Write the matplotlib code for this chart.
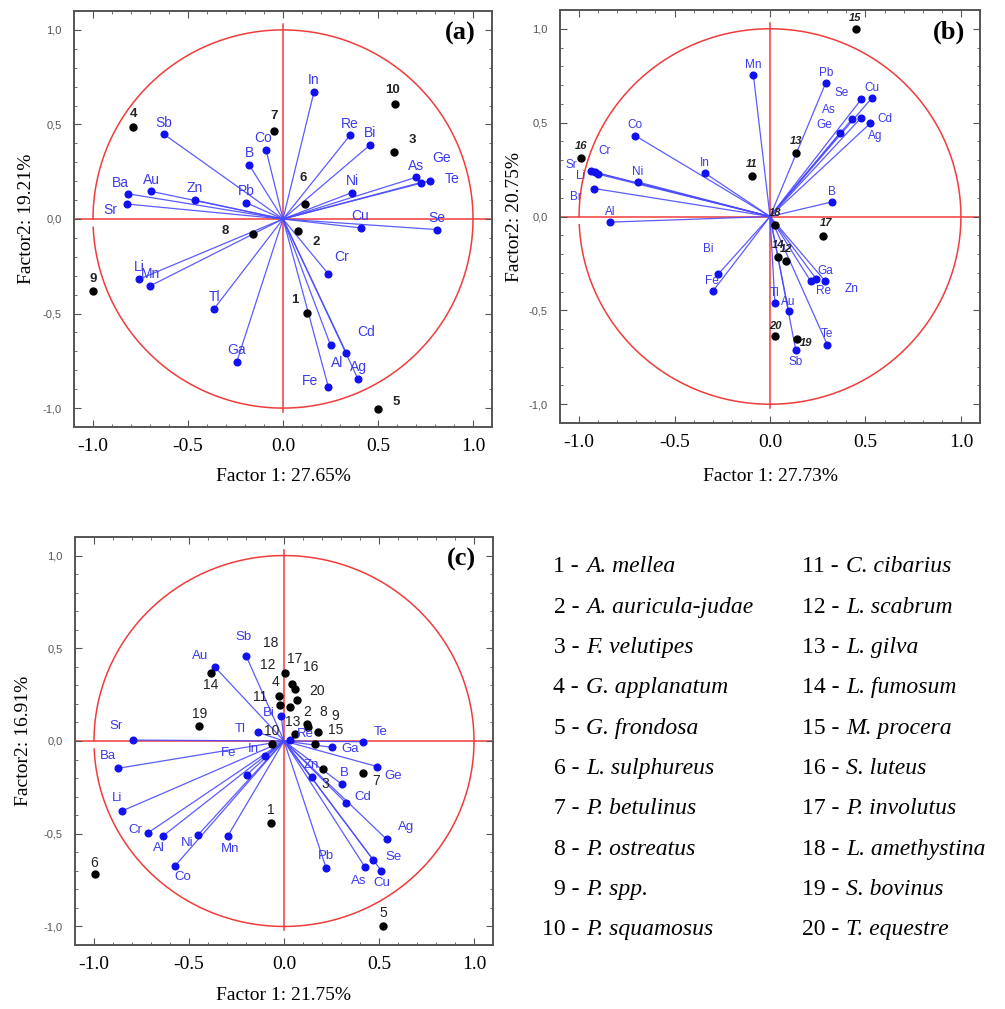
import numpy as np
import matplotlib.pyplot as plt
from matplotlib.ticker import MultipleLocator

# ---------------- panel (a) ----------------
a_vars = ['In', 'Re', 'Bi', 'As', 'Ge', 'Te', 'Ni', 'Cu', 'Se', 'Cr', 'Cd', 'Al', 'Ag',
          'Fe', 'Ga', 'Tl', 'Li', 'Mn', 'Sb', 'Ba', 'Au', 'Zn', 'Sr', 'Pb', 'B', 'Co']
a_vx = [0.163, 0.352, 0.46, 0.70, 0.725, 0.775, 0.364, 0.408, 0.81, 0.238, 0.334, 0.25, 0.395,
        0.238, -0.243, -0.362, -0.756, -0.70, -0.625, -0.815, -0.693, -0.465, -0.82, -0.194, -0.178, -0.089]
a_vy = [0.672, 0.442, 0.393, 0.22, 0.193, 0.202, 0.14, -0.047, -0.056, -0.29, -0.71, -0.667, -0.847,
        -0.886, -0.754, -0.474, -0.318, -0.354, 0.447, 0.133, 0.146, 0.10, 0.079, 0.086, 0.286, 0.365]
a_samples = ['1', '2', '3', '4', '5', '6', '7', '8', '9', '10']
a_sx = [0.124, 0.08, 0.583, -0.789, 0.50, 0.115, -0.049, -0.156, -0.999, 0.588]
a_sy = [-0.496, -0.063, 0.356, 0.486, -1.004, 0.079, 0.468, -0.077, -0.38, 0.609]

# ---------------- panel (b) ----------------
b_vars = ['Mn', 'Pb', 'Cu', 'Se', 'As', 'Ge', 'Cd', 'Ag', 'Co', 'In', 'Ni', 'Sr', 'Li',
          'Cr', 'Br', 'Al', 'B', 'Bi', 'Fe', 'Ga', 'Re', 'Zn', 'Tl', 'Au', 'Sb', 'Te']
b_vx = [-0.087, 0.292, 0.535, 0.478, 0.431, 0.366, 0.526, 0.478, -0.707, -0.342, -0.693, -0.936, -0.915,
        -0.903, -0.92, -0.837, 0.326, -0.272, -0.298, 0.288, 0.243, 0.214, 0.026, 0.097, 0.135, 0.30]
b_vy = [0.753, 0.712, 0.633, 0.624, 0.52, 0.444, 0.497, 0.527, 0.431, 0.232, 0.184, 0.24, 0.235,
        0.226, 0.149, -0.03, 0.078, -0.308, -0.396, -0.343, -0.334, -0.346, -0.463, -0.502, -0.711, -0.683]
b_samples = ['11', '12', '13', '14', '15', '16', '17', '18', '19', '20']
b_sx = [-0.095, 0.083, 0.135, 0.043, 0.448, -0.99, 0.278, 0.026, 0.144, 0.026]
b_sy = [0.218, -0.237, 0.338, -0.216, 0.997, 0.311, -0.104, -0.046, -0.652, -0.635]

# ---------------- panel (c) ----------------
c_vars = ['Sb', 'Au', 'Sr', 'Bi', 'Tl', 'Te', 'Ga', 'Ba', 'Li', 'Cr', 'Al', 'Ni', 'Co',
          'Mn', 'Fe', 'In', 'Zn', 'B', 'Cd', 'Ge', 'Ag', 'Se', 'Cu', 'As', 'Pb', 'Re']
c_vx = [-0.2, -0.362, -0.794, -0.014, -0.139, 0.416, 0.251, -0.872, -0.85, -0.714, -0.637, -0.453, -0.574,
        -0.296, -0.197, -0.098, 0.146, 0.305, 0.325, 0.491, 0.54, 0.47, 0.512, 0.425, 0.221, 0.03]
c_vy = [0.46, 0.397, 0.005, 0.135, 0.047, -0.004, -0.034, -0.147, -0.376, -0.494, -0.512, -0.507, -0.674,
        -0.512, -0.183, -0.081, -0.196, -0.233, -0.333, -0.138, -0.53, -0.642, -0.699, -0.678, -0.683, 0.005]
c_samples = [str(i) for i in range(1, 21)]
c_sx = [-0.066, 0.12, 0.207, -0.028, 0.522, -0.997, 0.418, 0.125, 0.181, -0.061,
        -0.022, 0.03, 0.056, -0.385, 0.163, 0.042, 0.007, 0.056, -0.446, 0.069]
c_sy = [-0.44, 0.092, -0.153, 0.243, -1.0, -0.717, -0.174, 0.077, 0.05, -0.018,
        0.194, 0.185, 0.036, 0.368, -0.016, 0.306, 0.365, 0.279, 0.081, 0.221]

species = ['A. mellea', 'A. auricula-judae', 'F. velutipes', 'G. applanatum', 'G. frondosa',
           'L. sulphureus', 'P. betulinus', 'P. ostreatus', 'P. spp.', 'P. squamosus',
           'C. cibarius', 'L. scabrum', 'L. gilva', 'L. fumosum', 'M. procera',
           'S. luteus', 'P. involutus', 'L. amethystina', 'S. bovinus', 'T. equestre']

# label offsets (data units), default is straight above
a_voff = {'Ge': (0.112, 0.13), 'Te': (0.114, 0.01), 'Cr': (0.068, 0.09), 'Cd': (0.105, 0.115),
          'Al': (0.037, -0.095), 'Fe': (-0.095, 0.03), 'Ba': (-0.042, 0.058), 'Sr': (-0.09, -0.032),
          'Co': (-0.016, 0.063)}
a_soff = {'1': (-0.063, 0.068), '2': (0.095, -0.058), '3': (0.10, 0.063), '4': (0, 0.068),
          '5': (0.095, 0.037), '6': (-0.01, 0.137), '7': (0, 0.079), '8': (-0.147, 0.016),
          '9': (0, 0.063), '10': (-0.01, 0.074)}
b_voff = {'Cu': (0, 0.05), 'Se': (-0.103, 0.032), 'As': (-0.122, 0.048), 'Ge': (-0.083, 0.044),
          'Cd': (0.078, 0.023), 'Ag': (0.075, -0.10), 'Sr': (-0.104, 0.035), 'Li': (-0.078, -0.021),
          'Cr': (0.036, 0.123), 'Br': (-0.099, -0.044), 'Bi': (-0.052, 0.136), 'Fe': (-0.009, 0.053),
          'Re': (0.035, -0.062), 'Zn': (0.212, -0.041), 'Au': (0, 0.048), 'Sb': (0, -0.062)}
b_soff = {'17': (0.014, 0.067), '18': (0, 0.067), '19': (0.043, -0.021), '20': (0, 0.053)}
c_voff = {'Sb': (-0.014, 0.10), 'Au': (-0.078, 0.061), 'Sr': (-0.09, 0.077), 'Bi': (-0.066, 0.018),
          'Tl': (-0.092, 0.018), 'Te': (0.092, 0.05), 'Ga': (0.098, -0.01), 'Ba': (-0.056, 0.066),
          'Li': (-0.026, 0.067), 'Cr': (-0.07, 0.015), 'Al': (-0.021, -0.066), 'Ni': (-0.057, -0.045),
          'Co': (0.042, -0.058), 'Mn': (0.012, -0.072), 'Fe': (-0.092, 0.117), 'In': (-0.064, 0.036),
          'Zn': (-0.004, 0.066), 'B': (0.01, 0.063), 'Cd': (0.092, 0.029), 'Ge': (0.084, -0.05),
          'Ag': (0.104, 0.065), 'Se': (0.108, 0.014), 'Cu': (0.005, -0.068), 'As': (-0.03, -0.075),
          'Re': (0.081, 0.031)}
c_soff = {'1': (-0.003, 0.068), '2': (0, 0.066), '3': (0.011, -0.079), '4': (-0.015, 0.077),
          '5': (0, 0.071), '6': (0, 0.061), '7': (0.069, -0.04), '8': (0.079, 0.081),
          '9': (0.089, 0.086), '10': (-0.005, 0.074), '11': (-0.105, 0.045), '12': (-0.114, 0.225),
          '13': (-0.009, 0.068), '14': (0, -0.066), '15': (0.11, 0.075), '16': (0.097, 0.094),
          '17': (0.049, 0.077), '18': (-0.125, 0.248), '19': (0, 0.065), '20': (0.105, 0.05)}

W, H = 1005, 1009
fig = plt.figure(figsize=(W / 100, H / 100), dpi=100)

RED = '#f03c3c'
BLUE_LINE = '#4a4aff'
BLUE = '#1010f0'
VAR_TXT = '#3a3aee'


def box(l, r, t, b):
    return [l / W, 1 - b / H, (r - l) / W, (b - t) / H]


def draw_panel(ax, vars_, vx, vy, voff, vdef, vsize, samples, sx, sy, soff, sdef, sfont,
               letter, xlab, ylab, xlab_y, ylab_x):
    ax.set_xlim(-1.1, 1.1)
    ax.set_ylim(-1.1, 1.1)
    # unit circle with the small break near (-1, 0)
    th = np.radians(np.linspace(182.5, 540, 400))
    ax.plot(np.cos(th), np.sin(th), color=RED, lw=1.1, zorder=1)
    ax.axhline(0, color=RED, lw=1.1, zorder=1)
    ax.plot([0, 0], [-1.02, 1.03], color=RED, lw=1.1, zorder=1)

    for name, x, y in zip(vars_, vx, vy):
        ax.plot([0, x], [0, y], color=BLUE_LINE, lw=0.9, alpha=0.9, zorder=2)
        ax.plot(x, y, 'o', color=BLUE, ms=4.8, zorder=3)
        dx, dy = voff.get(name, vdef)
        ax.text(x + dx, y + dy, name, color=VAR_TXT, fontsize=vsize, ha='center', va='center',
                family='Liberation Sans', zorder=4)

    for name, x, y in zip(samples, sx, sy):
        ax.plot(x, y, 'o', color='black', ms=5, zorder=3)
        dx, dy = soff.get(name, sdef)
        ax.text(x + dx, y + dy, name, color='#222222', ha='center', va='center', zorder=4, **sfont)

    ax.text(0.925, 0.945, letter, transform=ax.transAxes, fontsize=19, fontweight='bold',
            family='Liberation Serif', ha='center', va='center')

    ax.set_xticks([-1.0, -0.5, 0.0, 0.5, 1.0])
    ax.set_xticklabels(['-1.0', '-0.5', '0.0', '0.5', '1.0'], family='Liberation Serif', fontsize=14)
    ax.set_yticks([-1.0, -0.5, 0.0, 0.5, 1.0])
    ax.set_yticklabels(['-1,0', '-0,5', '0,0', '0,5', '1,0'], family='Liberation Sans', fontsize=8,
                       color='#555555')
    ax.xaxis.set_minor_locator(MultipleLocator(0.1))
    ax.yaxis.set_minor_locator(MultipleLocator(0.1))
    ax.tick_params(which='both', direction='in', top=True, right=True, color='#555555')
    ax.tick_params(which='major', length=5)
    ax.tick_params(which='minor', length=2.5)
    ax.tick_params(axis='x', pad=8)
    ax.tick_params(axis='y', pad=9)
    for s in ax.spines.values():
        s.set_color('#555555')
        s.set_linewidth(1.4)
    ax.set_xlabel(xlab, family='Liberation Serif', fontsize=14)
    ax.set_ylabel(ylab, family='Liberation Serif', fontsize=14)
    ax.xaxis.set_label_coords(0.5, xlab_y)
    ax.yaxis.set_label_coords(ylab_x, 0.5)


ax_a = fig.add_axes(box(74, 492, 11, 427))
draw_panel(ax_a, a_vars, a_vx, a_vy, a_voff, (0, 0.062), 10,
           a_samples, a_sx, a_sy, a_soff, (0, 0.065),
           dict(fontsize=9.5, fontweight='bold', family='Liberation Sans'),
           '(a)', 'Factor 1: 27.65%', 'Factor2: 19.21%', -0.099, -0.093)

ax_b = fig.add_axes(box(560, 980, 10, 423))
draw_panel(ax_b, b_vars, b_vx, b_vy, b_voff, (0, 0.055), 8.5,
           b_samples, b_sx, b_sy, b_soff, (0, 0.062),
           dict(fontsize=8, fontweight='bold', style='italic', family='Liberation Sans'),
           '(b)', 'Factor 1: 27.73%', 'Factor2: 20.75%', -0.108, -0.088)

ax_c = fig.add_axes(box(75, 493, 537, 945))
draw_panel(ax_c, c_vars, c_vx, c_vy, c_voff, (0, 0.065), 9.5,
           c_samples, c_sx, c_sy, c_soff, (0, 0.065),
           dict(fontsize=10, family='Liberation Sans'),
           '(c)', 'Factor 1: 21.75%', 'Factor2: 16.91%', -0.103, -0.103)

# species key
for i, name in enumerate(species):
    col, row = divmod(i, 10)
    y = 1 - (567 + row * 40.3) / H
    xd = (579 if col == 0 else 839) / W
    fig.text(xd, y, f'{i + 1} -', ha='right', va='center', fontsize=17, family='Liberation Serif')
    fig.text(xd + 7 / W, y, name, ha='left', va='center', fontsize=17, family='Liberation Serif',
             style='italic')

fig.savefig('out.png', dpi=100)
